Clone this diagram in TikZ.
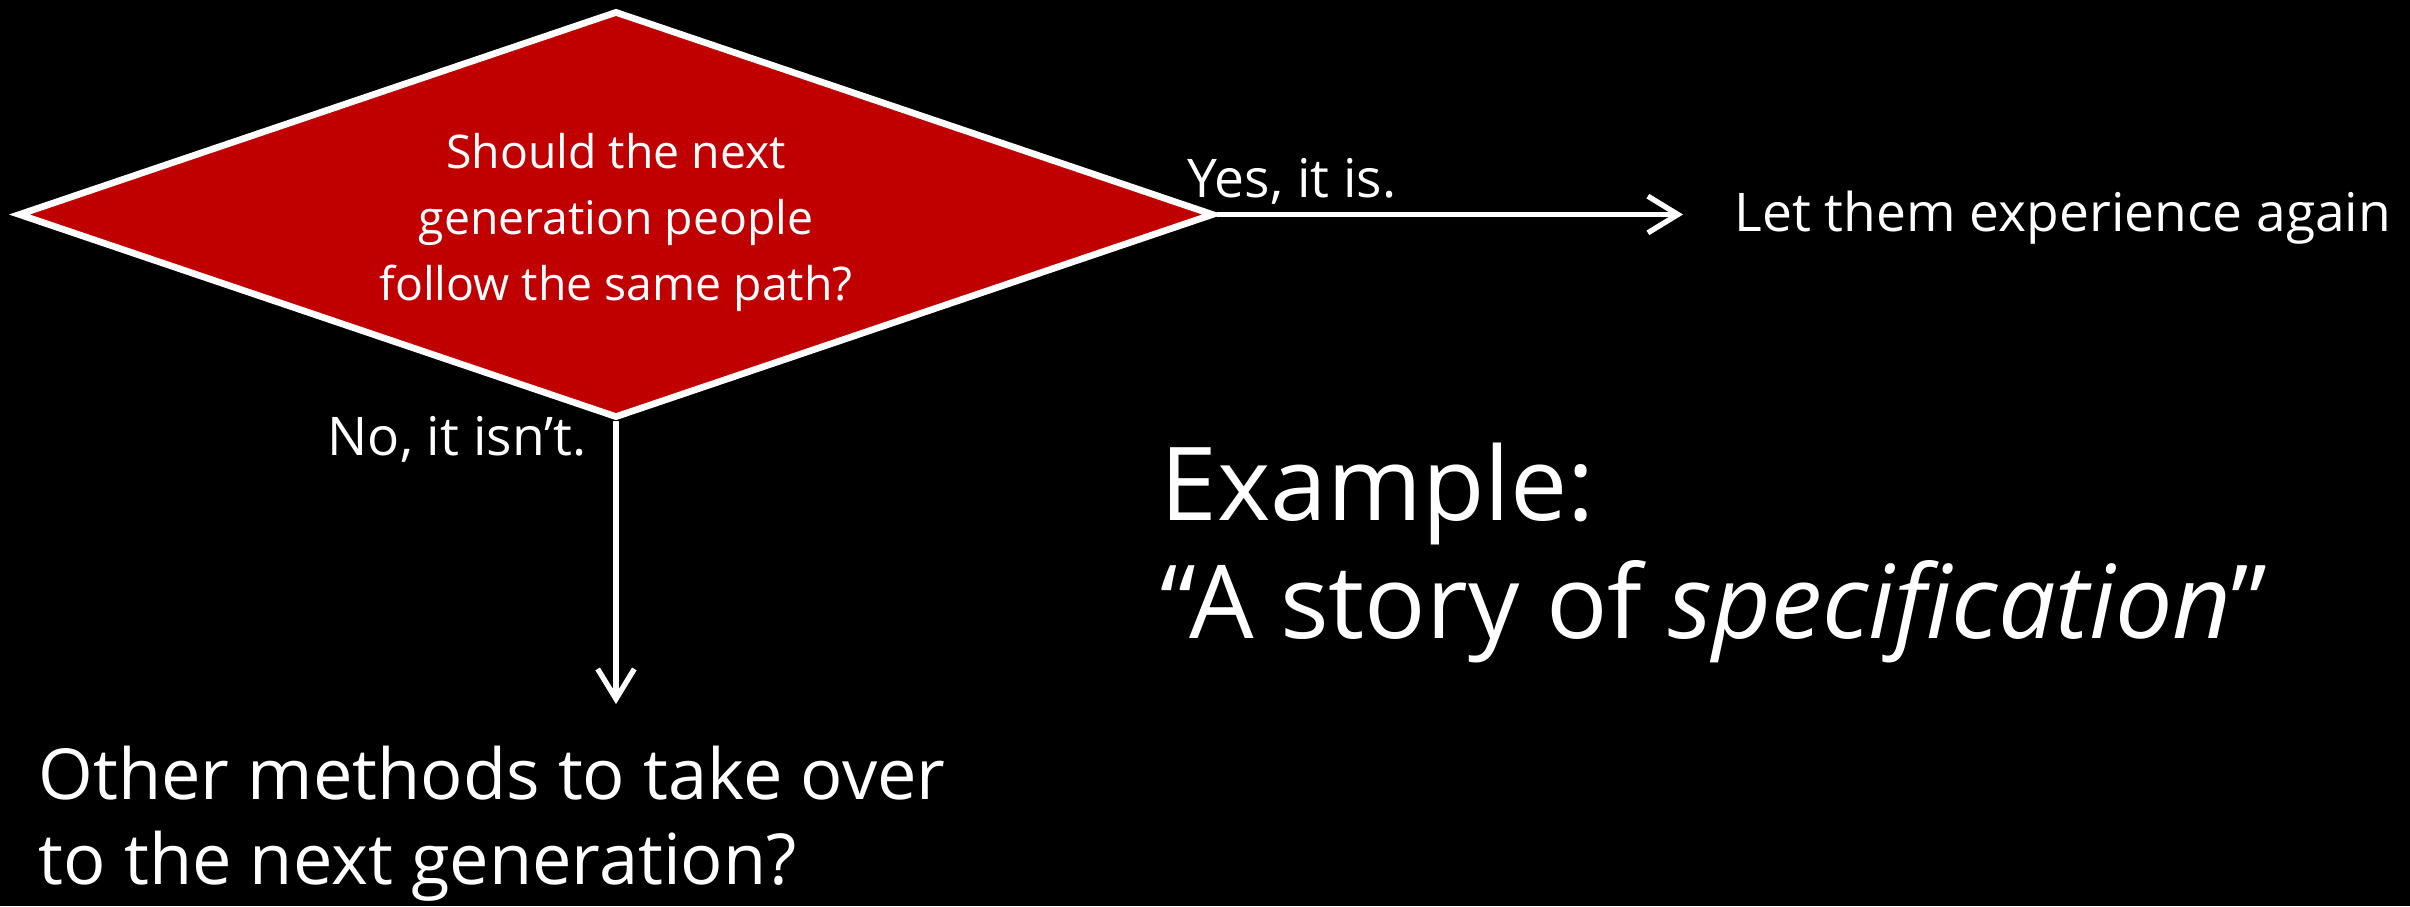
\documentclass[tikz,border=0pt]{standalone}
\usepackage{fontspec}
\setmainfont{Open Sans}
\usetikzlibrary{shapes.geometric,arrows.meta}
\definecolor{qred}{HTML}{C00000}
\tikzset{
  qbox/.style={diamond, draw=white, fill=qred, line width=2pt, inner sep=0pt,
    minimum width=358.8pt, minimum height=122.1pt},
  qtext/.style={text=white, align=center, font=\fontsize{13.9}{19.8}\selectfont},
  lbl/.style={text=white, inner sep=0pt, font=\fontsize{16}{19}\selectfont},
  big/.style={text=white, inner sep=0pt, align=left, font=\fontsize{21.1}{25.5}\selectfont},
  huge/.style={text=white, inner sep=0pt, align=left, font=\fontsize{30.6}{35.4}\selectfont},
  conn/.style={draw=white, line width=1.6pt, -{Straight Barb[length=9pt,width=11pt,line width=1.6pt]}}
}
\begin{document}
\begin{tikzpicture}[x=0.3pt,y=-0.3pt]
\fill[black] (0,0) rectangle (2410,906);
\useasboundingbox (0,0) rectangle (2410,906);
\node[qbox] (q) at (616,214.5) {};
\node[qtext] (qt) at (616,222) {Should the next\\generation people\\follow the same path?};
\node[lbl, anchor=base west] (yes) at (1187,197) {Yes, it is.};
\node[lbl, anchor=base west, inner xsep=15.3pt] (let) at (1683,231) {Let them experience again};
\node[lbl, anchor=base west] (no) at (327,455) {No, it isn’t.};
\node[big, anchor=base west] (other) at (38,884) {Other methods to take over\\to the next generation?};
\node[huge, anchor=base west] (ex) at (1160,638) {Example:\\“A story of \textit{specification}”};
\coordinate (noend) at (616,704);
\draw[conn] (q.east) -- (q.east -| let.west);
\draw[conn] (q.south) -- (noend);
\end{tikzpicture}
\end{document}
